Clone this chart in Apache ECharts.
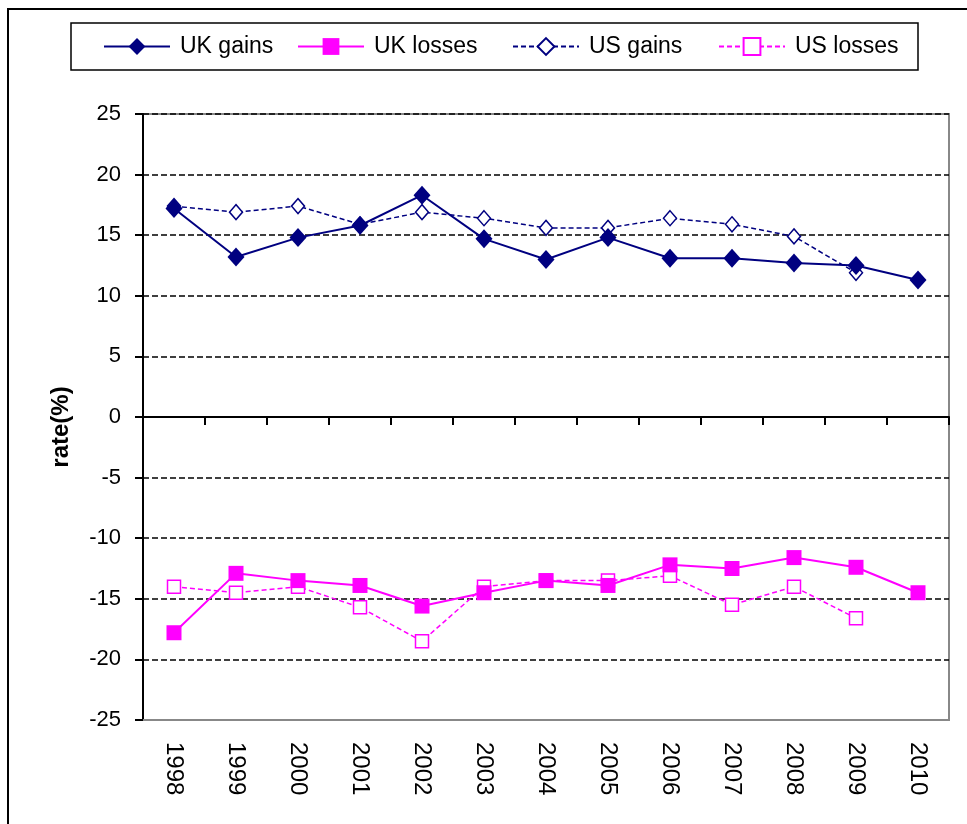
<!DOCTYPE html>
<html>
<head>
<meta charset="utf-8">
<script src="https://cdn.jsdelivr.net/npm/echarts@6/dist/echarts.min.js"></script>
<style>
html,body{margin:0;padding:0;background:#fff;}
#c{width:967px;height:824px;}
</style>
</head>
<body>
<div id="c"></div>
<script>
const years = ['1998','1999','2000','2001','2002','2003','2004','2005','2006','2007','2008','2009','2010'];
const ukGains  = [17.2, 13.2, 14.8, 15.8, 18.3, 14.7, 13.0, 14.8, 13.1, 13.1, 12.7, 12.5, 11.3];
const ukLosses = [-17.8, -12.9, -13.5, -13.9, -15.6, -14.5, -13.5, -13.9, -12.2, -12.5, -11.6, -12.4, -14.5];
const usGains  = [17.4, 16.9, 17.4, 15.9, 16.9, 16.4, 15.6, 15.6, 16.4, 15.9, 14.9, 11.9, null];
const usLosses = [-14.0, -14.5, -14.0, -15.7, -18.5, -14.0, -13.5, -13.5, -13.1, -15.5, -14.0, -16.6, null];
const yTicks = {min: -25, max: 25, interval: 5};
const seriesNames = ['UK gains', 'UK losses', 'US gains', 'US losses'];
const yAxisTitle = 'rate(%)';

const NAVY = '#000080', MAG = '#FF00FF';
const FONT = '"Liberation Sans", Arial, sans-serif';

const chart = echarts.init(document.getElementById('c'), null, {renderer: 'canvas'});

function legendAt(name, left) {
  return {
    data: [name], left: left, top: 35, padding: 0,
    itemWidth: 66, itemHeight: 21, itemGap: 0,
    textStyle: {fontFamily: FONT, fontSize: 23, color: '#000', padding: [0, 0, 0, 5]}
  };
}

chart.setOption({
  animation: false,
  backgroundColor: '#fff',
  graphic: [
    {type: 'rect', shape: {x: 8, y: 9, width: 1100, height: 1000}, style: {fill: 'none', stroke: '#000', lineWidth: 2}, silent: true},
    {type: 'rect', shape: {x: 71, y: 23, width: 847, height: 47}, style: {fill: '#fff', stroke: '#000', lineWidth: 1.5}, silent: true, z: -1},
    {type: 'text', x: 61, y: 427, rotation: Math.PI / 2, silent: true,
     style: {text: yAxisTitle, font: 'bold 24px ' + FONT, fill: '#000', textAlign: 'center', textVerticalAlign: 'middle'}}
  ],
  legend: [
    legendAt(seriesNames[0], 103),
    legendAt(seriesNames[1], 297),
    legendAt(seriesNames[2], 512),
    legendAt(seriesNames[3], 718)
  ],
  grid: {left: 143, right: 18, top: 114, bottom: 104, show: true, borderColor: '#888', borderWidth: 2, containLabel: false},
  xAxis: [
    {
      type: 'category', data: years, position: 'bottom', boundaryGap: true,
      axisLine: {onZero: false, show: true, lineStyle: {color: '#888', width: 2}},
      axisTick: {show: false},
      axisLabel: {rotate: -90, margin: 22, fontFamily: FONT, fontSize: 24, color: '#000', interval: 0},
      splitLine: {show: false}
    },
    {
      type: 'category', data: years, position: 'bottom', boundaryGap: true,
      axisLine: {onZero: true, show: true, lineStyle: {color: '#000', width: 2}},
      axisTick: {show: true, length: 8, interval: 0, lineStyle: {color: '#000', width: 2}},
      axisLabel: {show: false},
      splitLine: {show: false}
    }
  ],
  yAxis: {
    type: 'value', min: yTicks.min, max: yTicks.max, interval: yTicks.interval,
    axisLine: {show: true, onZero: false, lineStyle: {color: '#000', width: 2}},
    axisTick: {show: true, length: 8, lineStyle: {color: '#000', width: 2}},
    axisLabel: {margin: 22, fontFamily: FONT, fontSize: 22, color: '#000'},
    splitLine: {show: true, lineStyle: {color: '#000', width: 1.5, type: [6, 3]}}
  },
  series: [
    {
      name: seriesNames[0], type: 'line', data: ukGains, z: 5,
      symbol: 'diamond', symbolSize: [17, 19],
      lineStyle: {color: NAVY, width: 2, type: 'solid'},
      itemStyle: {color: NAVY, borderColor: NAVY, borderWidth: 0}
    },
    {
      name: seriesNames[1], type: 'line', data: ukLosses, z: 5,
      symbol: 'rect', symbolSize: 15,
      lineStyle: {color: MAG, width: 2, type: 'solid'},
      itemStyle: {color: MAG, borderColor: MAG, borderWidth: 0}
    },
    {
      name: seriesNames[2], type: 'line', data: usGains, z: 3,
      symbol: 'diamond', symbolSize: [13, 15],
      lineStyle: {color: NAVY, width: 1.5, type: [5, 3]},
      itemStyle: {color: '#fff', borderColor: NAVY, borderWidth: 1.5}
    },
    {
      name: seriesNames[3], type: 'line', data: usLosses, z: 3,
      symbol: 'rect', symbolSize: 13,
      lineStyle: {color: MAG, width: 1.5, type: [5, 3]},
      itemStyle: {color: '#fff', borderColor: MAG, borderWidth: 1.5}
    }
  ]
});
</script>
</body>
</html>
